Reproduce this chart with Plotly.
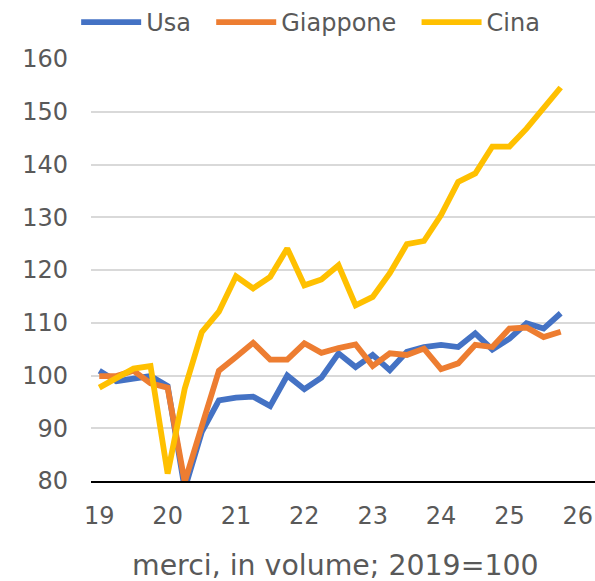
import plotly.graph_objects as go

quarters = [f"{y}T{q}" for y in range(2019, 2026) for q in range(1, 5)]

usa = [100.9, 98.9, 99.4, 99.9, 98.0, 78.5, 89.3, 95.3,
       95.8, 96.0, 94.2, 100.0, 97.4, 99.6, 104.2, 101.6,
       103.9, 101.0, 104.5, 105.4, 105.8, 105.4, 108.0, 104.9,
       107.0, 109.9, 108.9, 111.8]
giappone = [99.9, 99.9, 100.9, 98.5, 97.7, 79.8, 90.4, 100.9,
            103.5, 106.2, 103.0, 103.0, 106.1, 104.3, 105.2, 105.9,
            101.8, 104.2, 103.9, 105.1, 101.2, 102.3, 105.8, 105.4,
            108.9, 109.1, 107.3, 108.3]
cina = [97.7, 99.5, 101.3, 101.8, 81.4, 97.5, 108.2, 112.1,
        118.8, 116.5, 118.7, 124.1, 117.1, 118.2, 120.9, 113.3,
        114.9, 119.4, 124.9, 125.5, 130.4, 136.7, 138.3, 143.4,
        143.4, 146.8, 150.7, 154.6]

series_names = ["Usa", "Giappone", "Cina"]
colors = ["#4472C4", "#ED7D31", "#FFC000"]
year_ticks = list(range(2019, 2027))
year_labels = [str(y)[2:] for y in year_ticks]
y_ticks = list(range(80, 161, 10))
x_title = "merci, in volume; 2019=100"


def q_to_x(s):
    y, q = s.split("T")
    return int(y) + (int(q) - 1) / 4


x = [q_to_x(s) for s in quarters]

fig = go.Figure()
for name, vals, col in zip(series_names, [usa, giappone, cina], colors):
    fig.add_trace(go.Scatter(
        x=x, y=vals, name=name + "\u00a0\u00a0", mode="lines",
        line=dict(color=col, width=5.8),
    ))

font_fam = "DejaVu Sans, Verdana, sans-serif"
fig.update_layout(
    width=595, height=581,
    margin=dict(l=91, r=0, t=59, b=100, autoexpand=False),
    paper_bgcolor="white", plot_bgcolor="white",
    font=dict(family=font_fam, size=24, color="#595959"),
    showlegend=True,
    legend=dict(
        orientation="h", xref="container", yref="container",
        x=0.128, xanchor="left", y=1.0, yanchor="top",
        font=dict(size=24, color="#595959"),
        itemwidth=60, bgcolor="rgba(0,0,0,0)",
    ),
    xaxis=dict(
        range=[2018.879, 2026.252], automargin=False,
        tickvals=year_ticks, ticktext=year_labels,
        showgrid=False, zeroline=False,
        showline=True, linecolor="#000000", linewidth=1.5,
        ticks="", ticklabelstandoff=12,
        tickfont=dict(size=24, color="#595959"),
    ),
    yaxis=dict(
        range=[80, 160], tickvals=y_ticks, automargin=False,
        showgrid=True, gridcolor="#D9D9D9", gridwidth=1.5,
        zeroline=False, showline=False, ticks="",
        ticklabelstandoff=22,
        tickfont=dict(size=24, color="#595959"),
    ),
    annotations=[dict(
        text=x_title, xref="paper", yref="paper",
        x=0.485, y=-0.201, xanchor="center", yanchor="middle",
        showarrow=False, font=dict(size=28.4, color="#595959"),
    )],
)

fig.write_html("out.html", config={"displayModeBar": False})

# remove default page margin so the figure sits at the window origin
with open("out.html", "r", encoding="utf-8") as f:
    html = f.read()
html = html.replace("<head>", "<head><style>html,body{margin:0;padding:0;overflow:hidden;}</style>", 1)
with open("out.html", "w", encoding="utf-8") as f:
    f.write(html)
